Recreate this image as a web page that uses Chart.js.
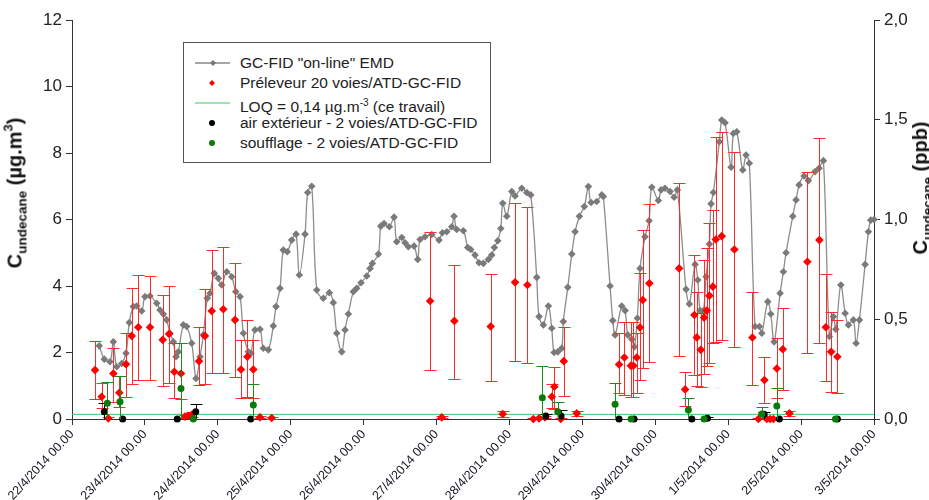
<!DOCTYPE html>
<html>
<head>
<meta charset="utf-8">
<script src="https://cdn.jsdelivr.net/npm/chart.js"></script>
<style>
  html, body { margin: 0; padding: 0; background: #fff; overflow: hidden; }
  #wrap { position: relative; width: 929px; height: 500px; overflow: hidden; font-family: 'Liberation Sans', Arial, sans-serif; }
  #chart { position: absolute; left: 0; top: 0; }
  #legend { position: absolute; left: 183px; top: 42px; width: 306px; height: 119px; border: 1px solid #555; background: #fff; }
  #legend .row { position: absolute; left: 0; height: 20px; line-height: 20px; font-size: 15.5px; color: #222; white-space: nowrap; }
  #legend svg { position: absolute; left: 10px; top: 2px; }
  #legend span { position: absolute; left: 56px; top: 0; }
  .ytitle { position: absolute; transform: translate(-50%, -50%) rotate(-90deg); font-weight: bold; font-size: 20px; color: #111; white-space: nowrap; }
  .ytitle sub { font-size: 13.5px; vertical-align: -5px; }
  .ytitle sup { font-size: 13px; vertical-align: 9px; }
</style>
</head>
<body>
<div id="wrap">
  <canvas id="chart" width="929" height="500"></canvas>
  <div id="legend">
    <div class="row" style="top:10px"><svg width="40" height="16"><line x1="1" y1="8" x2="36" y2="8" stroke="#888" stroke-width="1.5"/><polygon points="19,5 22,8 19,11 16,8" fill="#777"/></svg><span>GC-FID "on-line" EMD</span></div>
    <div class="row" style="top:30px"><svg width="40" height="16"><polygon points="18,5 21,8 18,11 15,8" fill="#ff0000"/></svg><span>Préleveur 20 voies/ATD-GC-FID</span></div>
    <div class="row" style="top:50px"><svg width="40" height="16"><line x1="1" y1="8" x2="36" y2="8" stroke="#33cc66" stroke-width="1"/></svg><span>LOQ = 0,14 µg.m<sup style="font-size:10px">-3</sup> (ce travail)</span></div>
    <div class="row" style="top:70px"><svg width="40" height="16"><circle cx="18" cy="8" r="3" fill="#000"/></svg><span>air extérieur - 2 voies/ATD-GC-FID</span></div>
    <div class="row" style="top:90px"><svg width="40" height="16"><circle cx="18" cy="8" r="3" fill="#0a7a0a"/></svg><span>soufflage - 2 voies/ATD-GC-FID</span></div>
  </div>
  <div class="ytitle" style="left:15px; top:193px">C<sub>undecane</sub> (µg.m<sup>3</sup>)</div>
  <div class="ytitle" style="left:922px; top:188px">C<sub>undecane</sub> (ppb)</div>
</div>
<script>
// x values are days since 22/4/2014 00.00
const dayLabels = ['22/4/2014 00.00', '23/4/2014 00.00', '24/4/2014 00.00', '25/4/2014 00.00',
  '26/4/2014 00.00', '27/4/2014 00.00', '28/4/2014 00.00', '29/4/2014 00.00',
  '30/4/2014 00.00', '1/5/2014 00.00', '2/5/2014 00.00', '3/5/2014 00.00'];

// GC-FID "on-line" EMD
const onlineX = [0.374, 0.443, 0.521, 0.567, 0.613, 0.682, 0.741, 0.786, 0.841, 0.888, 0.956, 1.001, 1.070, 1.162, 1.207, 1.252, 1.299, 1.344, 1.390, 1.427, 1.458, 1.527, 1.573, 1.642, 1.701, 1.756, 1.801, 1.856, 1.893, 1.952, 2.007, 2.053, 2.122, 2.191, 2.246, 2.305, 2.350, 2.418, 2.455, 2.510, 2.579, 2.624, 2.693, 2.761, 2.798, 2.853, 2.898, 2.953, 3.014, 3.073, 3.118, 3.196, 3.233, 3.288, 3.357, 3.447, 3.529, 3.584, 3.631, 3.700, 3.745, 3.790, 3.859, 3.905, 3.964, 4.043, 4.088, 4.119, 4.202, 4.235, 4.280, 4.353, 4.417, 4.454, 4.523, 4.568, 4.613, 4.691, 4.742, 4.774, 4.842, 4.934, 5.034, 5.080, 5.140, 5.209, 5.240, 5.277, 5.368, 5.428, 5.469, 5.528, 5.583, 5.642, 5.711, 5.757, 5.793, 5.840, 5.881, 5.908, 5.963, 6.032, 6.077, 6.169, 6.237, 6.292, 6.374, 6.406, 6.465, 6.534, 6.580, 6.612, 6.663, 6.717, 6.739, 6.800, 6.855, 6.900, 6.959, 7.027, 7.082, 7.119, 7.197, 7.266, 7.288, 7.380, 7.417, 7.449, 7.540, 7.586, 7.623, 7.678, 7.713, 7.754, 7.791, 7.860, 7.915, 7.952, 8.042, 8.080, 8.134, 8.203, 8.258, 8.303, 8.422, 8.468, 8.546, 8.583, 8.615, 8.660, 8.697, 8.742, 8.765, 8.797, 8.879, 8.912, 8.957, 9.040, 9.071, 9.118, 9.200, 9.245, 9.290, 9.369, 9.428, 9.461, 9.543, 9.584, 9.630, 9.712, 9.757, 9.794, 9.886, 9.931, 9.973, 10.041, 10.100, 10.192, 10.247, 10.306, 10.388, 10.443, 10.476, 10.545, 10.604, 10.649, 10.717, 10.754, 10.800, 10.878, 10.923, 10.956, 11.0];
const onlineY = [2.20, 1.80, 1.72, 2.32, 1.57, 1.67, 1.98, 2.90, 3.38, 3.40, 3.25, 3.68, 3.70, 3.48, 3.28, 3.16, 2.98, 2.58, 2.32, 1.87, 2.02, 2.83, 2.78, 2.28, 1.22, 1.87, 2.53, 3.63, 3.78, 4.38, 4.23, 4.03, 4.43, 4.28, 3.83, 3.68, 2.58, 2.02, 1.98, 2.68, 2.70, 2.13, 2.08, 2.80, 3.38, 3.93, 5.08, 5.03, 5.38, 5.56, 4.33, 5.56, 6.81, 7.00, 3.88, 3.63, 3.80, 3.50, 2.58, 2.02, 2.68, 3.16, 3.83, 3.93, 4.10, 4.30, 4.53, 4.68, 4.96, 5.80, 5.88, 5.78, 6.07, 5.33, 5.46, 5.30, 5.18, 5.20, 4.80, 5.40, 5.48, 5.55, 5.38, 5.60, 5.63, 5.78, 6.10, 5.70, 5.66, 5.16, 5.10, 4.93, 4.70, 4.68, 4.80, 4.93, 5.16, 5.36, 5.73, 6.49, 6.10, 6.84, 6.71, 6.94, 6.81, 6.74, 4.26, 3.08, 2.83, 3.40, 2.73, 2.00, 2.02, 2.13, 2.93, 3.96, 4.96, 5.63, 6.10, 6.39, 6.99, 6.51, 6.54, 6.74, 6.69, 4.00, 2.96, 2.53, 3.40, 3.26, 2.53, 2.40, 2.17, 3.03, 4.53, 5.48, 5.96, 6.97, 6.57, 6.89, 6.94, 6.84, 6.67, 6.89, 3.90, 3.46, 4.65, 4.18, 3.26, 3.26, 4.28, 5.26, 6.47, 6.81, 8.34, 8.99, 8.91, 7.57, 8.59, 8.64, 7.49, 7.94, 7.69, 2.78, 2.78, 2.58, 3.53, 3.16, 2.32, 3.78, 4.43, 5.00, 6.10, 6.59, 7.04, 7.31, 7.17, 7.44, 7.54, 7.77, 2.48, 3.08, 2.70, 4.03, 3.18, 2.83, 2.98, 2.28, 2.98, 4.65, 5.63, 5.98, 6.00];

// Préleveur 20 voies/ATD-GC-FID (value, lower and upper end of the error bar)
const redX = [0.316, 0.407, 0.498, 0.567, 0.649, 0.741, 0.819, 0.909, 1.070, 1.244, 1.331, 1.403, 1.495, 1.550, 1.595, 1.642, 1.742, 1.824, 1.916, 2.075, 2.236, 2.318, 2.405, 2.487, 2.579, 2.739, 4.911, 5.071, 5.244, 5.743, 5.908, 6.077, 6.246, 6.328, 6.406, 6.488, 6.580, 6.616, 6.704, 6.745, 6.923, 7.503, 7.576, 7.664, 7.700, 7.746, 7.791, 7.828, 7.919, 8.327, 8.409, 8.536, 8.569, 8.624, 8.669, 8.706, 8.742, 8.789, 8.830, 8.912, 9.085, 9.332, 9.414, 9.497, 9.529, 9.575, 9.620, 9.667, 9.749, 9.840, 10.086, 10.251, 10.339, 10.412, 10.498];
const redY = [1.47, 0.67, 0.02, 1.37, 0.79, 1.65, 2.50, 2.76, 2.76, 2.38, 2.56, 1.42, 1.37, 0.07, 0.10, 0.13, 1.74, 2.50, 3.25, 3.30, 2.98, 1.49, 1.87, 1.49, 0.05, 0.03, 3.55, 0.05, 2.95, 2.78, 0.15, 4.11, 4.03, 0.00, 0.02, 0.05, 0.67, 0.97, 0.00, 1.74, 0.17, 1.64, 1.85, 1.60, 1.60, 1.85, 2.75, 3.58, 4.08, 4.53, 0.89, 3.13, 2.45, 2.08, 3.05, 3.26, 3.71, 3.98, 5.40, 5.50, 5.10, 2.45, 0.00, 1.17, 0.00, 0.00, 0.00, 1.52, 2.10, 0.17, 4.73, 5.38, 2.76, 2.02, 1.87];
const redLow = [0.59, 0.32, 0.00, 0.52, 0.35, 0.67, 1.05, 1.17, 1.17, 0.99, 1.09, 0.62, 0.59, 0.03, 0.05, 0.06, 1.02, 1.05, 1.37, 1.37, 1.25, 0.62, 0.65, 0.62, 0.02, 0.01, 1.47, 0.02, 1.20, 1.15, 0.05, 1.74, 1.69, 0.00, 0.00, 0.02, 0.32, 0.29, 0.00, 0.70, 0.10, 0.77, 0.72, 0.65, 0.67, 0.77, 1.17, 1.52, 1.72, 1.89, 0.39, 1.32, 1.00, 0.95, 1.35, 1.59, 1.69, 2.29, 2.32, 2.38, 2.17, 1.02, 0.00, 0.47, 0.00, 0.00, 0.00, 0.62, 0.87, 0.10, 2.00, 2.29, 1.15, 0.82, 0.77];
const redHigh = [2.35, 1.07, 0.05, 2.13, 1.29, 2.60, 3.93, 4.33, 4.31, 3.73, 4.00, 2.28, 2.30, 0.12, 0.16, 0.20, 2.78, 3.90, 5.08, 5.18, 4.68, 2.38, 2.98, 2.38, 0.08, 0.05, 5.63, 0.08, 4.63, 4.36, 0.25, 6.51, 6.37, 0.02, 0.04, 0.08, 1.05, 1.55, 0.02, 2.78, 0.25, 2.60, 2.93, 2.93, 2.93, 2.58, 4.38, 5.68, 6.47, 7.11, 1.42, 4.93, 3.83, 3.20, 4.78, 5.13, 5.88, 6.29, 8.49, 8.64, 8.04, 3.83, 0.02, 1.86, 0.02, 0.02, 0.02, 2.45, 3.33, 0.25, 7.44, 8.44, 4.35, 3.23, 2.98];

// air extérieur - 2 voies/ATD-GC-FID
const airX = [0.443, 0.695, 1.444, 1.697, 2.451, 6.498, 6.708, 7.503, 7.709, 8.501, 8.715, 9.492, 9.702, 10.498];
const airY = [0.22, 0, 0, 0.22, 0, 0.09, 0.09, 0, 0, 0, 0.02, 0.14, 0, 0];
const airLow = [0, 0, 0, 0, 0, 0, 0, 0, 0, 0, 0, 0, 0, 0];
const airHigh = [0.49, 0, 0, 0.44, 0, 0.14, 0.27, 0, 0, 0, 0.05, 0.20, 0, 0];

// soufflage - 2 voies/ATD-GC-FID
const blowX = [0.484, 0.658, 1.495, 1.664, 2.487, 6.451, 6.663, 7.449, 7.668, 8.454, 8.669, 9.461, 9.667, 10.471];
const blowY = [0.47, 0.52, 0.92, 0, 0.42, 0.64, 0.22, 0.44, 0, 0.27, 0, 0.15, 0.39, 0];
const blowLow = [0, 0, 0, 0, 0, 0, 0, 0, 0, 0, 0, 0, 0, 0];
const blowHigh = [1.12, 1.29, 2.30, 0, 1.04, 1.59, 0.52, 1.07, 0, 0.62, 0, 0.35, 0.92, 0];

// LOQ
const loqValue = 0.14;
const loqX = [0, 11];

const pts = (xs, ys) => xs.map((x, i) => ({ x: x, y: ys[i] }));

// vertical error bars with caps, drawn just before each dataset's own marks
const errorBars = {
    id: 'errorBars',
    beforeDatasetDraw(chart, args) {
        const ds = chart.data.datasets[args.index];
        if (!ds.errLow) return;
        const xs = chart.scales.x, ys = chart.scales.y;
        const ctx = chart.ctx;
        ctx.save();
        ctx.strokeStyle = ds.errColor;
        ctx.lineWidth = 1;
        ds.data.forEach((p, i) => {
            const lo = Math.max(ds.errLow[i], 0), hi = ds.errHigh[i];
            if (hi - lo < 0.005) return;
            const px = Math.round(xs.getPixelForValue(p.x)) + 0.5;
            const pTop = Math.round(ys.getPixelForValue(hi)) + 0.5;
            const pBot = Math.round(ys.getPixelForValue(lo)) + 0.5;
            ctx.beginPath();
            ctx.moveTo(px, pTop); ctx.lineTo(px, pBot);
            ctx.moveTo(px - 6, pTop); ctx.lineTo(px + 6, pTop);
            if (ds.errLow[i] > 0) { ctx.moveTo(px - 6, pBot); ctx.lineTo(px + 6, pBot); }
            ctx.stroke();
        });
        ctx.restore();
    }
};

const tickFont = { family: "'Liberation Sans', Arial, sans-serif", size: 17 };

new Chart(document.getElementById('chart'), {
    type: 'scatter',
    data: {
        datasets: [
            {
                label: 'soufflage - 2 voies/ATD-GC-FID',
                data: pts(blowX, blowY),
                errLow: blowLow, errHigh: blowHigh, errColor: '#1a8a1a',
                pointStyle: 'circle', pointRadius: 3.5,
                backgroundColor: '#0a7a0a', borderColor: '#0a7a0a', borderWidth: 0,
                order: 1, clip: false
            },
            {
                label: 'air extérieur - 2 voies/ATD-GC-FID',
                data: pts(airX, airY),
                errLow: airLow, errHigh: airHigh, errColor: '#000',
                pointStyle: 'circle', pointRadius: 3.5,
                backgroundColor: '#000', borderColor: '#000', borderWidth: 0,
                order: 2, clip: false
            },
            {
                label: 'Préleveur 20 voies/ATD-GC-FID',
                data: pts(redX, redY),
                errLow: redLow, errHigh: redHigh, errColor: '#ff2a2a',
                pointStyle: 'rectRot', pointRadius: 4.3,
                backgroundColor: '#ff0000', borderColor: '#ff0000', borderWidth: 0,
                order: 3, clip: false
            },
            {
                label: 'LOQ = 0,14 µg.m-3 (ce travail)',
                type: 'line',
                data: loqX.map(x => ({ x: x, y: loqValue })),
                borderColor: '#33cc66', borderWidth: 1, pointRadius: 0,
                order: 4
            },
            {
                label: 'GC-FID "on-line" EMD',
                type: 'line',
                data: pts(onlineX, onlineY),
                borderColor: '#8c8c8c', borderWidth: 1.3, tension: 0.35,
                pointStyle: 'rectRot', pointRadius: 3.8,
                backgroundColor: '#7a7a7a', pointBorderWidth: 0,
                order: 5, clip: false
            }
        ]
    },
    options: {
        responsive: false,
        animation: false,
        layout: { padding: { top: 20, left: 0, right: 0, bottom: 0 } },
        plugins: { legend: { display: false }, tooltip: { enabled: false } },
        scales: {
            x: {
                type: 'linear', min: 0, max: 11,
                afterFit: (s) => { s.height = 81; },
                afterBuildTicks: (s) => { s.ticks = dayLabels.map((l, i) => ({ value: i })); },
                border: { display: true, color: '#333', width: 1 },
                grid: { drawOnChartArea: false, drawTicks: true, tickLength: 6, color: '#333' },
                ticks: {
                    autoSkip: false, maxRotation: 47, minRotation: 47, padding: 2,
                    color: '#151520',
                    font: { family: "'Liberation Sans', Arial, sans-serif", size: 12.5 },
                    callback: (v) => dayLabels[v]
                }
            },
            y: {
                type: 'linear', position: 'left', min: 0, max: 12,
                afterFit: (s) => { s.width = 72; },
                border: { display: true, color: '#333', width: 1 },
                grid: { drawOnChartArea: false, drawTicks: true, tickLength: 6, color: '#333' },
                ticks: { stepSize: 2, padding: 4, color: '#222', font: tickFont }
            },
            y2: {
                type: 'linear', position: 'right', min: 0, max: 2,
                afterFit: (s) => { s.width = 55; },
                border: { display: true, color: '#333', width: 1 },
                grid: { drawOnChartArea: false, drawTicks: true, tickLength: 6, color: '#333' },
                ticks: { stepSize: 0.5, padding: 4, color: '#222', font: tickFont,
                    callback: (v) => v.toFixed(1).replace('.', ',') }
            }
        }
    },
    plugins: [errorBars]
});
</script>
</body>
</html>
